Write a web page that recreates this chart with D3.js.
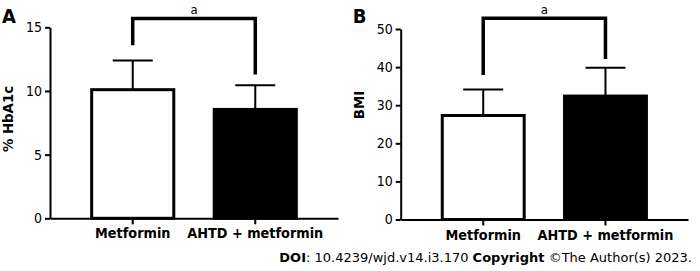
<!DOCTYPE html>
<html>
<head>
<meta charset="utf-8">
<script src="https://cdn.jsdelivr.net/npm/d3@7"></script>
<style>
  body { margin: 0; background: #fff; }
  svg { display: block; font-family: "DejaVu Sans Condensed", "DejaVu Sans", sans-serif; }
</style>
</head>
<body>
<svg id="chart" width="700" height="271"></svg>
<script>
// groups and values
const groups = ["Metformin", "AHTD + metformin"];
const hba1cMean = [10.1, 8.55];
const hba1cErr = [2.3, 1.9];
const hba1cTicks = [0, 5, 10, 15];
const hba1cBracket = [13.6, 15.7, 11.3]; // left leg end, top, right leg end
const bmiMean = [27.3, 32.4];
const bmiErr = [6.8, 7.4];
const bmiTicks = [0, 10, 20, 30, 40, 50];
const bmiBracket = [37.9, 52.8, 42.1];

const svg = d3.select("#chart");

function panel(opt) {
    const g = svg.append("g");

    const x = d3.scaleBand().domain(groups)
        .range([opt.left, opt.right])
        .paddingInner(0.33).paddingOuter(0.34);
    const y = d3.scaleLinear().domain(opt.domain).range([opt.bottom, opt.top]);

    // bars
    g.selectAll("rect.bar").data(opt.mean).join("rect")
        .attr("class", "bar")
        .attr("x", (d, i) => x(groups[i]))
        .attr("y", d => y(d))
        .attr("width", x.bandwidth())
        .attr("height", d => y(0) - y(d))
        .attr("fill", (d, i) => i == 0 ? "#fff" : "#000")
        .attr("stroke", "#000")
        .attr("stroke-width", 3);

    // error bars (upper only)
    const cx = i => x(groups[i]) + x.bandwidth() / 2;
    g.selectAll("line.stem").data(opt.mean).join("line")
        .attr("x1", (d, i) => cx(i)).attr("x2", (d, i) => cx(i))
        .attr("y1", d => y(d)).attr("y2", (d, i) => y(d + opt.err[i]))
        .attr("stroke", "#000").attr("stroke-width", 2);
    g.selectAll("line.cap").data(opt.mean).join("line")
        .attr("x1", (d, i) => cx(i) - 20).attr("x2", (d, i) => cx(i) + 20)
        .attr("y1", (d, i) => y(d + opt.err[i])).attr("y2", (d, i) => y(d + opt.err[i]))
        .attr("stroke", "#000").attr("stroke-width", 2);

    // axes
    const yAxis = g.append("g")
        .attr("transform", `translate(${opt.left},0)`)
        .call(d3.axisLeft(y).tickValues(opt.ticks).tickSize(5).tickSizeOuter(0).tickPadding(3));
    yAxis.attr("font-size", null).attr("font-family", null);
    yAxis.selectAll("text").style("font-size", "14px").attr("fill", "#000");

    const xAxis = g.append("g")
        .attr("transform", `translate(0,${opt.bottom})`)
        .call(d3.axisBottom(x).tickSize(6).tickSizeOuter(0).tickPadding(4));
    xAxis.attr("font-size", null).attr("font-family", null);
    xAxis.selectAll("text").style("font-size", "14.3px").attr("font-weight", "bold").attr("fill", "#000");

    g.selectAll(".domain").attr("stroke", "#000").attr("stroke-width", 2);
    g.selectAll(".tick line").attr("stroke", "#000").attr("stroke-width", 2);

    // significance bracket
    const b = opt.bracket;
    const bx0 = cx(0), bx1 = cx(1);
    g.append("path")
        .attr("d", d3.line()([[bx0, y(b[0])], [bx0, y(b[1])], [bx1, y(b[1])], [bx1, y(b[2])]]))
        .attr("fill", "none").attr("stroke", "#000").attr("stroke-width", 3.5);
    g.append("text")
        .attr("x", (bx0 + bx1) / 2).attr("y", y(b[1]) - 4)
        .attr("text-anchor", "middle").style("font-size", "13px")
        .text("a");

    // y title
    g.append("text")
        .attr("transform", `translate(${opt.left - 37},${opt.titleY}) rotate(-90)`)
        .attr("text-anchor", "middle").style("font-size", "14.8px").attr("font-weight", "bold")
        .text(opt.title);

    // panel letter
    g.append("text")
        .attr("x", opt.left - 48).attr("y", 23)
        .style("font-size", "20px").attr("font-weight", "bold")
        .text(opt.letter);
}

panel({letter: "A", title: "% HbA1c", mean: hba1cMean, err: hba1cErr, ticks: hba1cTicks,
    bracket: hba1cBracket, domain: [0, 15], left: 50, right: 338, top: 27.3, bottom: 218.3, titleY: 119});
panel({letter: "B", title: "BMI", mean: bmiMean, err: bmiErr, ticks: bmiTicks,
    bracket: bmiBracket, domain: [0, 50], left: 400.7, right: 688, top: 29, bottom: 219.5, titleY: 105});

// footer
const foot = svg.append("text")
    .attr("x", 692).attr("y", 262).attr("text-anchor", "end")
    .style("font-family", "'DejaVu Sans', sans-serif").style("font-size", "13px");
foot.append("tspan").attr("font-weight", "bold").text("DOI");
foot.append("tspan").text(": 10.4239/wjd.v14.i3.170 ");
foot.append("tspan").attr("font-weight", "bold").text("Copyright");
foot.append("tspan").text(" ©The Author(s) 2023.");
</script>
</body>
</html>
